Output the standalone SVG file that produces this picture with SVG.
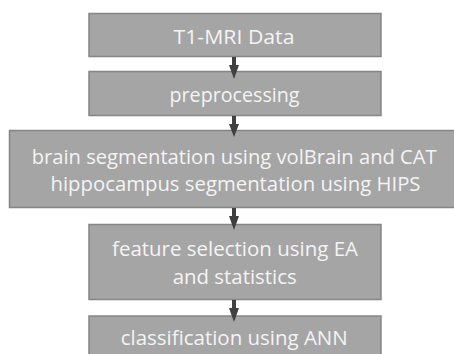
<svg xmlns="http://www.w3.org/2000/svg" width="454" height="354" viewBox="0 0 454 354">
<style>
.box{fill:#a5a5a5;stroke:#858585;stroke-width:1.5}
.t{font-family:"Open Sans",sans-serif;font-size:19.5px;fill:#f4f4f4;text-anchor:middle}
.arr{fill:#404040}
</style>
<rect width="454" height="354" fill="#ffffff"/>
<g id="n1"><rect class="box" x="89" y="13.5" width="292" height="43"/><text class="t" x="234" y="44" textLength="121" lengthAdjust="spacingAndGlyphs">T1-MRI Data</text></g>
<g id="n2"><rect class="box" x="89" y="71.5" width="292" height="44"/><text class="t" x="234.5" y="101.5" textLength="130" lengthAdjust="spacingAndGlyphs">preprocessing</text></g>
<g id="n3"><rect class="box" x="9.5" y="130.5" width="450" height="77"/><text class="t" x="234.2" y="163.5" textLength="405" lengthAdjust="spacingAndGlyphs">brain segmentation using volBrain and CAT</text><text class="t" x="235.5" y="190.5" textLength="370" lengthAdjust="spacingAndGlyphs">hippocampus segmentation using HIPS</text></g>
<g id="n4"><rect class="box" x="89" y="224.5" width="292" height="75"/><text class="t" x="235" y="256" textLength="246" lengthAdjust="spacingAndGlyphs">feature selection using EA</text><text class="t" x="234.7" y="283.5" textLength="124" lengthAdjust="spacingAndGlyphs">and statistics</text></g>
<g id="n5"><rect class="box" x="89" y="316" width="292" height="45"/><text class="t" x="234.2" y="345" textLength="227" lengthAdjust="spacingAndGlyphs">classification using ANN</text></g>
<g id="connectors">
<path class="arr" d="M232,57 h4 v8 h3 l-5,14 l-5,-14 h3 z"/>
<path class="arr" d="M232,116 h4 v8 h3 l-5,13 l-5,-13 h3 z"/>
<path class="arr" d="M232,208 h4 v8 h3 l-5,14 l-5,-14 h3 z"/>
<path class="arr" d="M232,300 h4 v8 h3 l-5,14 l-5,-14 h3 z"/>
</g>
</svg>
